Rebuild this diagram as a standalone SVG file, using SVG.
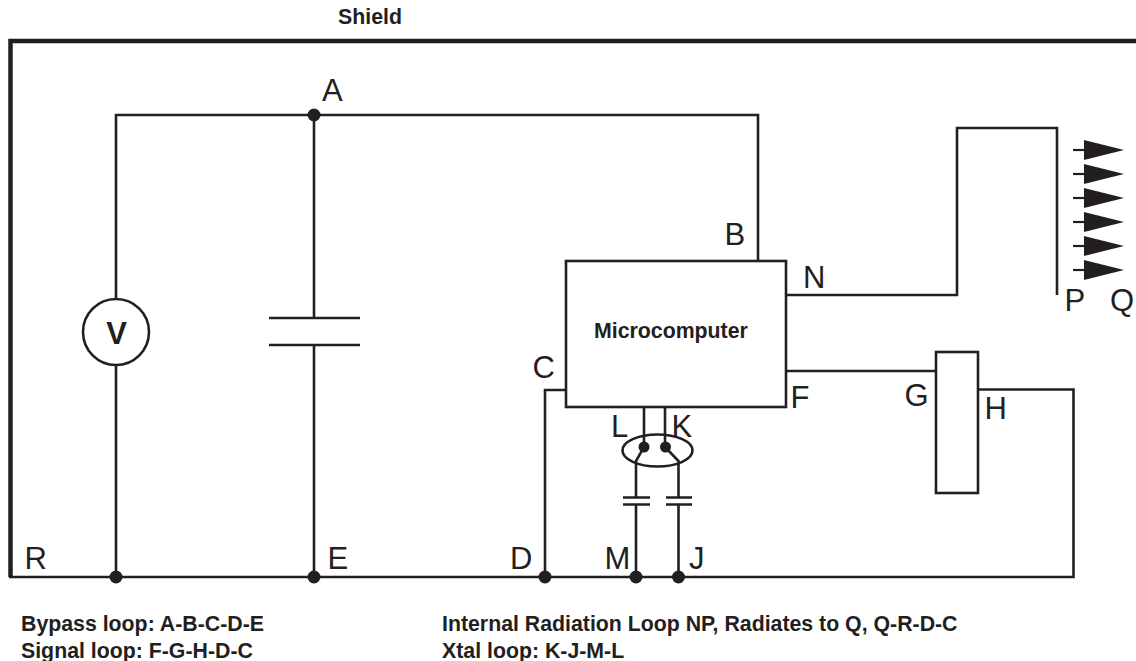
<svg xmlns="http://www.w3.org/2000/svg" width="1136" height="661" viewBox="0 0 1136 661">
<style>
text{font-family:"Liberation Sans",Arial,sans-serif;fill:#231f20}
.l{font-size:31px}
.b{font-size:21.300px;font-weight:bold}
.w{fill:none;stroke:#231f20;stroke-width:2.6}
.d{fill:#231f20}
</style>
<defs>
<g id="ray"><path d="M1073 0H1086" stroke="#231f20" stroke-width="2.2"/><path d="M1084-10L1124 0L1084 10Z" fill="#231f20"/></g>
</defs>
<rect width="1136" height="661" fill="#fff"/>
<g id="connectors">
<path d="M1136 41H10.500V577" fill="none" stroke="#231f20" stroke-width="4.500"/>
<path class="w" d="M9 577H1073.500V389.500H978"/>
<path class="w" d="M116 577V365M116 299V115H758V261"/>
<path class="w" d="M314 115V318M314 345V577"/>
<path class="w" d="M269 318H360M269 345H360"/>
<path class="w" d="M786 295H957V128H1057V295"/>
<path class="w" d="M786 371H936"/>
<path class="w" d="M566 390H545V577"/>
<path class="w" d="M644 407V447L636 461V497.500M636 504.500V577"/>
<path class="w" d="M665 407V447L678.500 461V497.500M678.500 504.500V577"/>
<path class="w" d="M623 497.500H650M623 504.500H650M666 497.500H692M666 504.500H692"/>
</g>
<g id="junctions">
<circle class="d" cx="314" cy="115" r="6.500"/>
<circle class="d" cx="116" cy="577" r="6.500"/>
<circle class="d" cx="314" cy="577" r="6.500"/>
<circle class="d" cx="545" cy="577" r="6.500"/>
<circle class="d" cx="636" cy="577" r="6.500"/>
<circle class="d" cx="678.500" cy="577" r="6.500"/>
<circle class="d" cx="644" cy="447" r="5.500"/>
<circle class="d" cx="665.500" cy="447" r="5.500"/>
</g>
<g id="xtal"><ellipse class="w" cx="657.500" cy="450.500" rx="35" ry="16"/></g>
<g id="voltmeter"><circle class="w" cx="116" cy="332" r="33"/><text x="116.500" y="344" text-anchor="middle" font-size="31" font-weight="bold">V</text></g>
<g id="microcomputer"><rect class="w" x="566" y="261" width="220" height="146"/><text class="b" x="594" y="337.500">Microcomputer</text></g>
<g id="load"><rect class="w" x="936" y="352" width="42" height="141"/></g>
<g id="radiation">
<use href="#ray" y="150"/><use href="#ray" y="174"/><use href="#ray" y="198"/><use href="#ray" y="222"/><use href="#ray" y="246"/><use href="#ray" y="270"/>
</g>
<g id="labels">
<text class="b" x="338" y="23.500">Shield</text>
<text class="l" x="322" y="100.500">A</text>
<text class="l" x="724.500" y="245">B</text>
<text class="l" x="532.500" y="378">C</text>
<text class="l" x="510" y="569">D</text>
<text class="l" x="327.500" y="569">E</text>
<text class="l" x="790.500" y="408">F</text>
<text class="l" x="904.500" y="406">G</text>
<text class="l" x="984.500" y="419">H</text>
<text class="l" x="689" y="569">J</text>
<text class="l" x="671.500" y="437">K</text>
<text class="l" x="611" y="437">L</text>
<text class="l" x="604.500" y="569">M</text>
<text class="l" x="803" y="288">N</text>
<text class="l" x="1064.500" y="311">P</text>
<text class="l" x="1110" y="311">Q</text>
<text class="l" x="24.500" y="569">R</text>
<text class="b" x="21" y="631">Bypass loop: A-B-C-D-E</text>
<text class="b" x="21" y="657.500">Signal loop: F-G-H-D-C</text>
<text class="b" x="442" y="631">Internal Radiation Loop NP, Radiates to Q, Q-R-D-C</text>
<text class="b" x="442" y="657.500">Xtal loop: K-J-M-L</text>
</g>
</svg>
